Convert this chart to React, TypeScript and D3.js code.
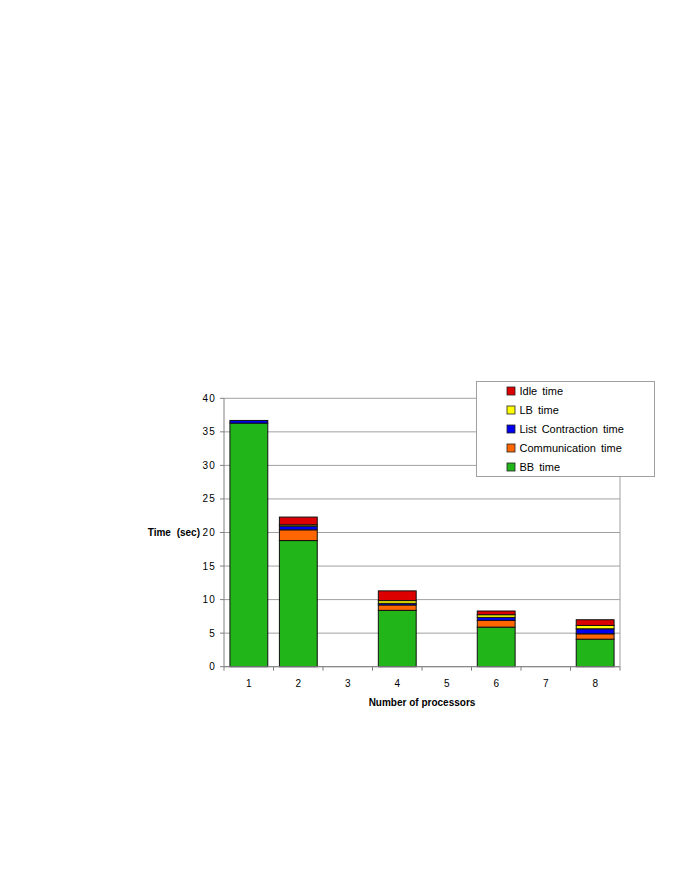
import React from "react";
import * as d3 from "d3";

// processors on x axis
const processors = ["1", "2", "3", "4", "5", "6", "7", "8"];

// stacked components (sec), bottom to top
const bbTime = [36.3, 18.8, 0, 8.4, 0, 5.9, 0, 4.1];
const commTime = [0, 1.6, 0, 0.8, 0, 1.0, 0, 0.8];
const listContractionTime = [0.4, 0.55, 0, 0.25, 0, 0.45, 0, 0.75];
const lbTime = [0, 0.2, 0, 0.4, 0, 0.4, 0, 0.5];
const idleTime = [0, 1.15, 0, 1.45, 0, 0.55, 0, 0.85];

const seriesNames = ["BB time", "Communication time", "List Contraction time", "LB time", "Idle time"];
const seriesColors = ["#21b519", "#ff6600", "#0000ee", "#ffff00", "#dd0000"];
const yTicks = [0, 5, 10, 15, 20, 25, 30, 35, 40];

export default function App() {
  const width = 692;
  const height = 896;
  const x0 = 224, x1 = 620, yTop = 398.3, yBot = 666.7;

  const x = d3.scaleBand().domain(processors).range([x0, x1]).paddingInner(0.235).paddingOuter(0.12);
  const y = d3.scaleLinear().domain([0, 40]).range([yBot, yTop]);

  const rows = processors.map((p, i) => ({
    p,
    v0: bbTime[i],
    v1: commTime[i],
    v2: listContractionTime[i],
    v3: lbTime[i],
    v4: idleTime[i],
  }));
  const stack = d3.stack<any>().keys(["v0", "v1", "v2", "v3", "v4"]);
  const layers = stack(rows);

  const step = (x1 - x0) / processors.length;
  const font = "'Liberation Sans', Arial, sans-serif";

  return (
    <svg width={width} height={height} style={{ position: "absolute", left: 0, top: 0 }} fontFamily={font}>
      <rect width={width} height={height} fill="#fff" />
      {/* gridlines */}
      {yTicks.map((t) => (
        <line key={t} x1={x0} x2={x1} y1={y(t)} y2={y(t)} stroke="#a0a0a0" strokeWidth={1} />
      ))}
      <line x1={x1} x2={x1} y1={yTop} y2={yBot} stroke="#a0a0a0" />
      {/* bars */}
      {layers.map((layer, li) => (
        <g key={li} fill={seriesColors[li]}>
          {layer.map((d: any, i: number) => {
            const h = y(d[0]) - y(d[1]);
            if (h <= 0) return null;
            return (
              <rect key={i} x={x(processors[i])} y={y(d[1])} width={x.bandwidth()} height={h}
                stroke="#111" strokeWidth={1} />
            );
          })}
        </g>
      ))}
      {/* axes */}
      <line x1={x0} x2={x0} y1={yTop} y2={yBot} stroke="#808080" />
      <line x1={x0} x2={x1} y1={yBot} y2={yBot} stroke="#808080" />
      {yTicks.map((t) => (
        <g key={t}>
          <line x1={x0 - 4} x2={x0} y1={y(t)} y2={y(t)} stroke="#808080" />
          <text x={x0 - 8} y={y(t)} dy="0.35em" textAnchor="end" fontSize={10} letterSpacing={1.2}>{t}</text>
        </g>
      ))}
      {d3.range(processors.length + 1).map((i) => (
        <line key={i} x1={x0 + i * step} x2={x0 + i * step} y1={yBot} y2={yBot + 4} stroke="#808080" />
      ))}
      {processors.map((p, i) => (
        <text key={p} x={x0 + (i + 0.5) * step} y={687} textAnchor="middle" fontSize={10}>{p}</text>
      ))}
      <text x={422} y={706} textAnchor="middle" fontSize={10} fontWeight="bold">Number of processors</text>
      <text x={200} y={536} textAnchor="end" fontSize={10} fontWeight="bold" wordSpacing={3}>Time (sec)</text>
      {/* legend */}
      <rect x={476.5} y={381.5} width={178} height={95} fill="#fff" stroke="#a0a0a0" />
      {[4, 3, 2, 1, 0].map((si, k) => (
        <g key={si} transform={`translate(507,${391 + k * 19})`}>
          <rect x={0} y={-4} width={8} height={8} fill={seriesColors[si]} stroke="#222" strokeWidth={0.8} />
          <text x={12.5} y={0} dy="0.35em" fontSize={11} wordSpacing={2}>{seriesNames[si]}</text>
        </g>
      ))}
    </svg>
  );
}
